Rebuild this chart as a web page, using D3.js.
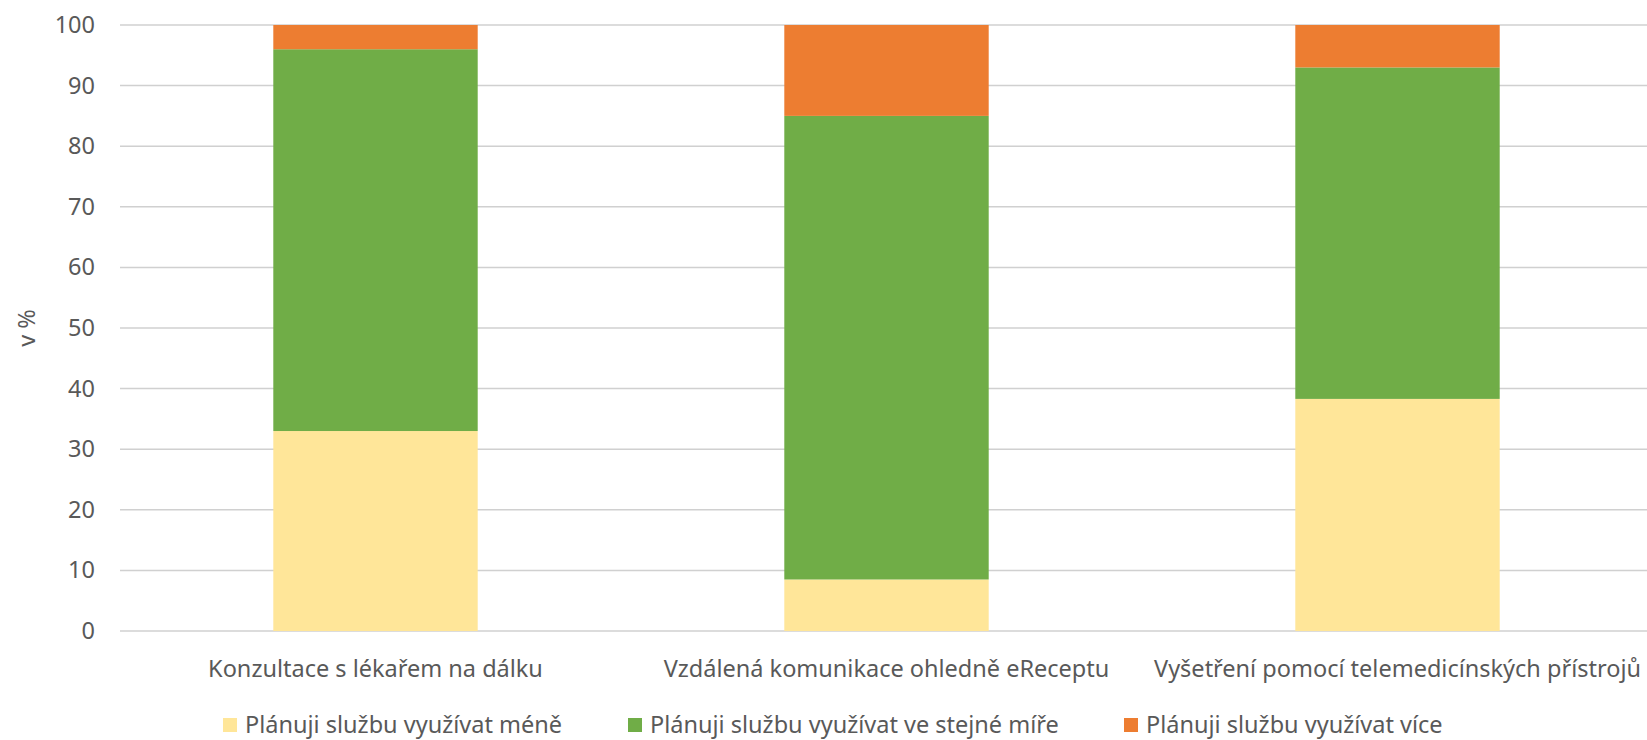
<!DOCTYPE html>
<html>
    <head>
        <title></title>
        <style>
            body { margin: 0; background: #fff; }
            svg text { font-family: "Noto Sans", sans-serif; fill: #595959; }
            .grid line { stroke: #d0d0d0; stroke-width: 1.5; }
        </style>
    </head>
    <body>
        <script src="https://cdnjs.cloudflare.com/ajax/libs/d3/7.8.5/d3.min.js" charset="utf-8"></script>
        <script>

        var w = 1647;
        var h = 740;
        var fs = 23.5;

        // categories + series (v %)
        var categories = ["Konzultace s lékařem na dálku", "Vzdálená komunikace ohledně eReceptu", "Vyšetření pomocí telemedicínských přístrojů"];
        var seriesNames = ["Plánuji službu využívat méně", "Plánuji službu využívat ve stejné míře", "Plánuji službu využívat více"];
        var mene = [33, 8.5, 38.3];
        var stejne = [63, 76.5, 54.7];
        var vice = [4, 15, 7];
        var colors = ["#FFE699", "#70AD47", "#ED7D31"];
        var yTicks = [0, 10, 20, 30, 40, 50, 60, 70, 80, 90, 100];

        var rows = categories.map(function(c, i) {
            return { cat: c, s0: mene[i], s1: stejne[i], s2: vice[i] };
        });
        var stack = d3.stack().keys(["s0", "s1", "s2"])(rows);

        var svg = d3.select("body")
                    .append("svg")
                    .attr("width", w)
                    .attr("height", h);

        // plot runs a bit past the right edge (cropped like the original)
        var xScale = d3.scaleBand()
                        .domain(categories)
                        .range([120, 1653])
                        .paddingInner(0.6)
                        .paddingOuter(0.3);

        var yScale = d3.scaleLinear()
                        .domain([0, 100])
                        .range([631, 25]);

        // gridlines
        svg.append("g")
            .attr("class", "grid")
            .selectAll("line")
            .data(yTicks)
            .enter()
            .append("line")
            .attr("x1", 120)
            .attr("x2", w)
            .attr("y1", function(d) { return yScale(d); })
            .attr("y2", function(d) { return yScale(d); });

        // y axis labels
        var yAxis = svg.append("g")
            .attr("transform", "translate(95,0)")
            .call(d3.axisLeft(yScale).tickValues(yTicks).tickSize(0).tickPadding(0));
        yAxis.select(".domain").remove();
        yAxis.selectAll("text")
            .attr("font-size", fs)
            .style("font-family", "'Noto Sans', sans-serif")
            .attr("fill", "#595959");

        svg.append("text")
            .attr("transform", "translate(35,328) rotate(-90)")
            .attr("text-anchor", "middle")
            .attr("font-size", fs)
            .text("v %");

        // stacked bars
        svg.append("g")
            .selectAll("g")
            .data(stack)
            .enter()
            .append("g")
            .attr("fill", function(d, i) { return colors[i]; })
            .selectAll("rect")
            .data(function(d) { return d; })
            .enter()
            .append("rect")
            .attr("x", function(d) { return xScale(d.data.cat); })
            .attr("width", xScale.bandwidth())
            .attr("y", function(d) { return yScale(d[1]); })
            .attr("height", function(d) { return yScale(d[0]) - yScale(d[1]); });

        // category labels
        var xAxis = svg.append("g")
            .attr("transform", "translate(0,631)")
            .call(d3.axisBottom(xScale).tickSize(0).tickPadding(0));
        xAxis.select(".domain").remove();
        xAxis.selectAll("text")
            .attr("dy", null)
            .attr("y", 46)
            .attr("font-size", fs)
            .style("font-family", "'Noto Sans', sans-serif")
            .attr("fill", "#595959");

        // legend
        var legendX = [223, 628, 1124];
        var legend = svg.append("g")
            .selectAll("g")
            .data(seriesNames)
            .enter()
            .append("g")
            .attr("transform", function(d, i) { return "translate(" + legendX[i] + ",718)"; });

        legend.append("rect")
            .attr("width", 14)
            .attr("height", 14)
            .attr("fill", function(d, i) { return colors[i]; });

        legend.append("text")
            .attr("x", 22)
            .attr("y", 15)
            .attr("font-size", fs)
            .text(function(d) { return d; });

        </script>
    </body>
</html>
